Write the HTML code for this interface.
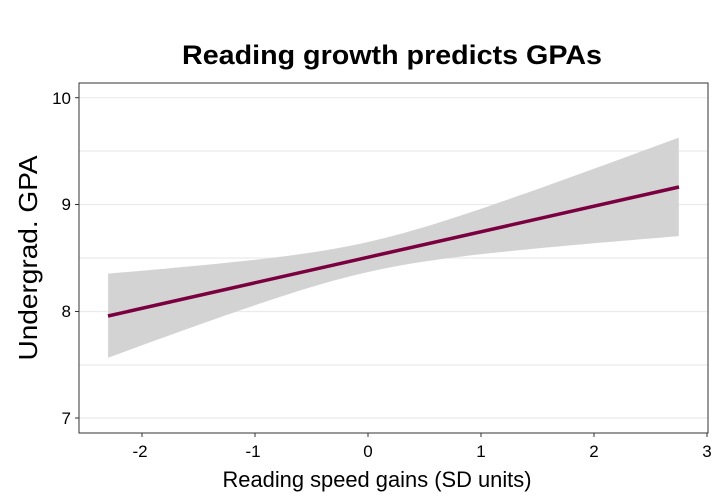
<!DOCTYPE html>
<html><head><meta charset="utf-8"><style>
body{margin:0;background:#fff;}
svg{display:block;font-family:"Liberation Sans",Arial,sans-serif;}
</style></head><body>
<svg id="s" width="720" height="504" viewBox="0 0 720 504">
<rect width="720" height="504" fill="#fff"/>
<text x="392" y="64" text-anchor="middle" font-size="27" font-weight="bold" textLength="420" lengthAdjust="spacingAndGlyphs">Reading growth predicts GPAs</text>
<g stroke="#ebebeb" stroke-width="1.2">
<line x1="79" x2="708" y1="97.7" y2="97.7"/>
<line x1="79" x2="708" y1="151" y2="151"/>
<line x1="79" x2="708" y1="204.5" y2="204.5"/>
<line x1="79" x2="708" y1="258" y2="258"/>
<line x1="79" x2="708" y1="311.5" y2="311.5"/>
<line x1="79" x2="708" y1="365" y2="365"/>
<line x1="79" x2="708" y1="418" y2="418"/>
</g>
<path id="rib" fill="#d3d3d3" d=""/>
<line x1="108" y1="316" x2="679" y2="187" stroke="#7a0040" stroke-width="3.5"/>
<rect x="79" y="83" width="629" height="350" fill="none" stroke="#333" stroke-width="1"/>
<g stroke="#333" stroke-width="1">
<line x1="75" x2="79" y1="97.7" y2="97.7"/>
<line x1="75" x2="79" y1="204.5" y2="204.5"/>
<line x1="75" x2="79" y1="311.5" y2="311.5"/>
<line x1="75" x2="79" y1="418" y2="418"/>
<line x1="142" x2="142" y1="433" y2="437"/>
<line x1="255" x2="255" y1="433" y2="437"/>
<line x1="368" x2="368" y1="433" y2="437"/>
<line x1="481" x2="481" y1="433" y2="437"/>
<line x1="594" x2="594" y1="433" y2="437"/>
<line x1="707" x2="707" y1="433" y2="437"/>
</g>
<g font-size="17" text-anchor="end" fill="#000">
<text x="71" y="104">10</text><text x="71" y="210">9</text>
<text x="71" y="317">8</text><text x="71" y="424">7</text>
</g>
<g font-size="17" text-anchor="middle" fill="#000">
<text x="140" y="457">-2</text><text x="253" y="457">-1</text><text x="368" y="457">0</text>
<text x="481" y="457">1</text><text x="594" y="457">2</text><text x="707" y="457">3</text>
</g>
<text x="377" y="487" text-anchor="middle" font-size="22" textLength="309" lengthAdjust="spacingAndGlyphs">Reading speed gains (SD units)</text>
<text transform="translate(37,258) rotate(-90)" text-anchor="middle" font-size="26" textLength="205" lengthAdjust="spacingAndGlyphs">Undergrad. GPA</text>
</svg>
<script>
var up=[],dn=[];
for(var i=0;i<=60;i++){var x=-2.3+5.05*i/60;var px=368+113*x;var py=257+(x)*(-25.5);
var h=Math.sqrt(225+291*x*x);up.push(px.toFixed(1)+","+(py-h).toFixed(1));dn.unshift(px.toFixed(1)+","+(py+h).toFixed(1));}
document.getElementById("rib").setAttribute("d","M"+up.join("L")+"L"+dn.join("L")+"Z");
</script>
</body></html>
